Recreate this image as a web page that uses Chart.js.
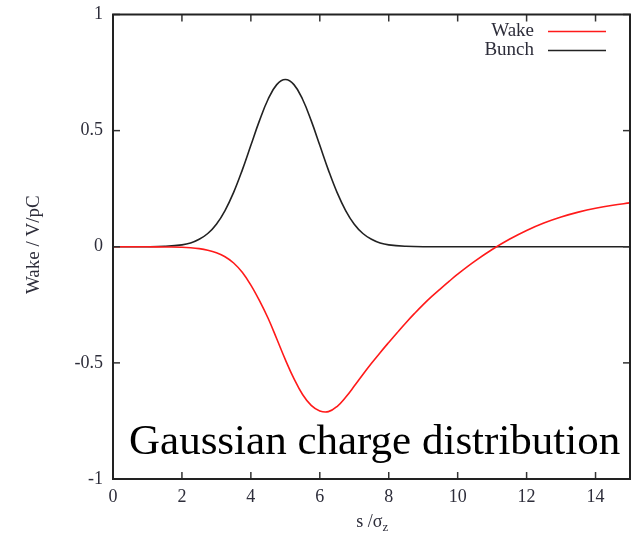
<!DOCTYPE html>
<html><head><meta charset="utf-8">
<script src="https://cdn.jsdelivr.net/npm/chart.js@4/dist/chart.umd.min.js"></script>
<style>html,body{margin:0;padding:0;background:#fff}#wrap{width:635px;height:536px}</style>
</head><body><div id="wrap"><canvas id="c" width="635" height="536"></canvas></div>
<script>
const wakeS = [0,0.5,1,1.5,2,2.25,2.5,2.75,3,3.25,3.5,3.75,4,4.25,4.5,4.75,5,5.25,5.5,5.75,6,6.25,6.5,6.75,7,7.25,7.5,7.75,8,8.25,8.5,8.75,9,9.25,9.5,9.75,10,10.5,11,11.5,12,12.5,13,13.5,14,14.5,15];
const wakeValues = [0,0,0,-0.001,-0.002,-0.004,-0.008,-0.015,-0.026,-0.043,-0.07,-0.11,-0.165,-0.232,-0.308,-0.396,-0.486,-0.568,-0.636,-0.683,-0.707,-0.710,-0.688,-0.648,-0.600,-0.550,-0.502,-0.456,-0.412,-0.369,-0.327,-0.287,-0.249,-0.214,-0.181,-0.149,-0.118,-0.062,-0.012,0.032,0.07,0.102,0.128,0.149,0.166,0.179,0.189];
const bunchS = [0,0.5,1,1.5,2,2.25,2.5,2.75,3,3.25,3.5,3.75,4,4.25,4.5,4.75,5,5.25,5.5,5.75,6,6.25,6.5,6.75,7,7.25,7.5,7.75,8,8.5,9,10,11,12,13,14,15];
const bunchValues = [0,0,0,0.002,0.008,0.016,0.032,0.057,0.097,0.156,0.234,0.330,0.437,0.543,0.635,0.698,0.72,0.698,0.635,0.543,0.437,0.330,0.234,0.156,0.097,0.057,0.032,0.016,0.008,0.002,0,0,0,0,0,0,0];
const xTicks = [0,2,4,6,8,10,12,14];
const yTicks = [-1,-0.5,0,0.5,1];
const yTickLabels = ["-1","-0.5","0","0.5","1"];
const seriesNames = ["Wake","Bunch"];
const annotationText = "Gaussian charge distribution";

const serif = "'Liberation Serif','DejaVu Serif',serif";
const inkColor = "#222";
const labelColor = "#2d2d3a";

const frame = {
  id:'frame',
  afterDatasetsDraw(chart){
    const {ctx, chartArea:a, scales} = chart;
    ctx.save();
    ctx.strokeStyle = "#333"; ctx.lineWidth = 1.5;
    const L = 7;
    xTicks.forEach(v=>{
      const px = scales.x.getPixelForValue(v);
      ctx.beginPath(); ctx.moveTo(px,a.bottom); ctx.lineTo(px,a.bottom-L); ctx.stroke();
      ctx.beginPath(); ctx.moveTo(px,a.top); ctx.lineTo(px,a.top+L); ctx.stroke();
    });
    yTicks.forEach(v=>{
      const py = scales.y.getPixelForValue(v);
      ctx.beginPath(); ctx.moveTo(a.left,py); ctx.lineTo(a.left+L,py); ctx.stroke();
      ctx.beginPath(); ctx.moveTo(a.right,py); ctx.lineTo(a.right-L,py); ctx.stroke();
    });
    ctx.strokeStyle = inkColor; ctx.lineWidth = 2;
    ctx.strokeRect(a.left,a.top,a.right-a.left,a.bottom-a.top);
    // legend
    ctx.font = "19px "+serif; ctx.textAlign="right"; ctx.textBaseline="middle";
    chart.data.datasets.forEach((ds,i)=>{
      const y = a.top + 17 + i*19;
      ctx.fillStyle = labelColor;
      ctx.fillText(ds.label, a.right-96, y);
      ctx.strokeStyle = ds.borderColor; ctx.lineWidth = 1.6;
      ctx.beginPath(); ctx.moveTo(a.right-82,y); ctx.lineTo(a.right-24,y); ctx.stroke();
    });
    // annotation
    ctx.fillStyle = "#000"; ctx.font = "43px "+serif; ctx.textAlign="left"; ctx.textBaseline="alphabetic";
    ctx.fillText(annotationText, a.left+16, a.bottom-25);
    // axis titles
    ctx.fillStyle = labelColor;
    const cx = (a.left+a.right)/2 + 2;
    ctx.font = "18px "+serif; ctx.textAlign="right";
    ctx.fillText("s /σ", cx+9, 527);
    ctx.font = "13px "+serif; ctx.textAlign="left";
    ctx.fillText("z", cx+9, 531);
    ctx.save();
    ctx.translate(34, (a.top+a.bottom)/2 - 2);
    ctx.rotate(-Math.PI/2);
    ctx.font = "19px "+serif; ctx.textAlign="center"; ctx.textBaseline="middle";
    ctx.fillText("Wake / V/pC", 0, 0);
    ctx.restore();
    ctx.restore();
  }
};

new Chart(document.getElementById('c'), {
  type:'line',
  data:{
    datasets:[
      {label:seriesNames[0], data:wakeS.map((s,i)=>({x:s,y:wakeValues[i]})), borderColor:'#ff1a1a', borderWidth:1.6, pointRadius:0, tension:0.4, fill:false},
      {label:seriesNames[1], data:bunchS.map((s,i)=>({x:s,y:bunchValues[i]})), borderColor:'#222222', borderWidth:1.6, pointRadius:0, tension:0.4, fill:false}
    ]
  },
  options:{
    responsive:false, animation:false,
    layout:{padding:{left:0,right:5,top:0,bottom:0}},
    plugins:{legend:{display:false}, tooltip:{enabled:false}},
    scales:{
      x:{type:'linear', min:0, max:15,
        afterBuildTicks:(s)=>{s.ticks = xTicks.map(v=>({value:v}));},
        afterFit:(s)=>{s.height = 57;},
        grid:{display:false, drawTicks:false}, border:{display:false},
        ticks:{padding:7, color:labelColor, font:{family:serif, size:18}, maxRotation:0}
      },
      y:{type:'linear', min:-1, max:1,
        afterBuildTicks:(s)=>{s.ticks = yTicks.map(v=>({value:v}));},
        afterFit:(s)=>{s.width = 113;},
        grid:{display:false, drawTicks:false}, border:{display:false},
        ticks:{padding:10, color:labelColor, font:{family:serif, size:18, lineHeight:0.5},
          callback:(v)=>{const i = yTicks.indexOf(v); return i>=0 ? yTickLabels[i] : '';}}
      }
    }
  },
  plugins:[frame]
});
</script></body></html>
